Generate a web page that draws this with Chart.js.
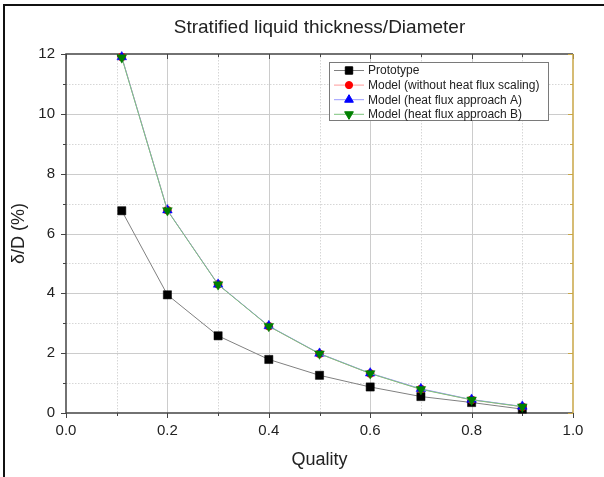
<!DOCTYPE html>
<html>
<head>
<meta charset="utf-8">
<script src="https://cdn.jsdelivr.net/npm/chart.js@4/dist/chart.umd.min.js"></script>
<style>
  html, body { margin: 0; padding: 0; background: #fff; }
  #wrap { width: 604px; height: 477px; position: relative; }
</style>
</head>
<body>
<div id="wrap"><canvas id="chart" width="604" height="477"></canvas></div>
<script>
// Valores (qualidade vs δ/D em %)
const quality = [0.11, 0.2, 0.3, 0.4, 0.5, 0.6, 0.7, 0.8, 0.9]
const prototype = [6.76, 3.95, 2.58, 1.79, 1.26, 0.87, 0.55, 0.35, 0.13]
const modelNoScaling = [11.9, 6.78, 4.30, 2.90, 1.98, 1.32, 0.80, 0.44, 0.21]
const modelApproachA = [11.9, 6.78, 4.30, 2.91, 1.99, 1.33, 0.81, 0.45, 0.22]
const modelApproachB = [11.88, 6.77, 4.29, 2.90, 1.98, 1.32, 0.79, 0.44, 0.21]

const xTicks = [0, 0.2, 0.4, 0.6, 0.8, 1.0]
const yTicks = [0, 2, 4, 6, 8, 10, 12]

const seriesNames = [
  'Prototype',
  'Model (without heat flux scaling)',
  'Model (heat flux approach A)',
  'Model (heat flux approach B)'
]

const FONT = "'Liberation Sans', Arial, sans-serif"

const toPoints = (ys) => quality.map((x, i) => ({ x: x, y: ys[i] }))

const datasets = [
  {
    label: seriesNames[0],
    data: toPoints(prototype),
    borderColor: '#808080',
    backgroundColor: '#000000',
    pointBackgroundColor: '#000000',
    pointBorderColor: '#000000',
    pointStyle: 'rect',
    pointRadius: 5.8,
    order: 3
  },
  {
    label: seriesNames[1],
    data: toPoints(modelNoScaling),
    borderColor: '#ff9a9a',
    backgroundColor: '#ff0000',
    pointBackgroundColor: '#ff0000',
    pointBorderColor: '#ff0000',
    pointStyle: 'circle',
    pointRadius: 4,
    order: 2
  },
  {
    label: seriesNames[2],
    data: toPoints(modelApproachA),
    borderColor: '#9a9aff',
    backgroundColor: '#0000ff',
    pointBackgroundColor: '#0000ff',
    pointBorderColor: '#0000ff',
    pointStyle: 'triangle',
    pointRadius: 5.6,
    order: 1
  },
  {
    label: seriesNames[3],
    data: toPoints(modelApproachB),
    borderColor: '#7cc47c',
    backgroundColor: '#008000',
    pointBackgroundColor: '#008000',
    pointBorderColor: '#008000',
    pointStyle: 'triangle',
    pointRotation: 180,
    pointRadius: 5.6,
    order: 0
  }
]
datasets.forEach(d => {
  d.borderWidth = 1
  d.pointBorderWidth = 0.5
  d.tension = 0
  d.clip = false
})

// Grade: linhas maiores sólidas, menores pontilhadas
const gridPlugin = {
  id: 'gridFrame',
  beforeDatasetsDraw(chart) {
    const { ctx, chartArea: a, scales: { x, y } } = chart
    ctx.save()
    ctx.lineWidth = 1
    // menores
    ctx.strokeStyle = '#d6d6d6'
    ctx.setLineDash([1.5, 1.5])
    for (let v = 0.1; v < 1; v += 0.2) {
      const px = Math.round(x.getPixelForValue(v)) + 0.5
      ctx.beginPath(); ctx.moveTo(px, a.top); ctx.lineTo(px, a.bottom); ctx.stroke()
    }
    for (let v = 1; v < 12; v += 2) {
      const py = Math.round(y.getPixelForValue(v)) + 0.5
      ctx.beginPath(); ctx.moveTo(a.left, py); ctx.lineTo(a.right, py); ctx.stroke()
    }
    // maiores
    ctx.setLineDash([])
    ctx.strokeStyle = '#cccccc'
    xTicks.slice(1, -1).forEach(v => {
      const px = Math.round(x.getPixelForValue(v)) + 0.5
      ctx.beginPath(); ctx.moveTo(px, a.top); ctx.lineTo(px, a.bottom); ctx.stroke()
    })
    yTicks.slice(1, -1).forEach(v => {
      const py = Math.round(y.getPixelForValue(v)) + 0.5
      ctx.beginPath(); ctx.moveTo(a.left, py); ctx.lineTo(a.right, py); ctx.stroke()
    })

    // eixos e marcas
    const axis = '#444444'
    const gold = '#c8a646'
    ctx.lineWidth = 1.5
    ctx.strokeStyle = axis
    ctx.beginPath()
    ctx.moveTo(a.right, a.top); ctx.lineTo(a.left, a.top); ctx.lineTo(a.left, a.bottom); ctx.lineTo(a.right, a.bottom)
    ctx.stroke()
    ctx.lineWidth = 1
    for (let i = 0; i <= 10; i++) {
      const v = i / 10
      const px = Math.round(x.getPixelForValue(v)) + 0.5
      const len = i % 2 === 0 ? 5 : 3
      ctx.beginPath(); ctx.moveTo(px, a.bottom); ctx.lineTo(px, a.bottom + len); ctx.stroke()
      ctx.beginPath(); ctx.moveTo(px, a.top); ctx.lineTo(px, a.top + len); ctx.stroke()
    }
    for (let v = 0; v <= 12; v++) {
      const py = Math.round(y.getPixelForValue(v)) + 0.5
      const len = v % 2 === 0 ? 5 : 3
      ctx.beginPath(); ctx.moveTo(a.left, py); ctx.lineTo(a.left - len, py); ctx.stroke()
    }
    ctx.strokeStyle = gold
    ctx.lineWidth = 1.5
    ctx.beginPath(); ctx.moveTo(a.right, a.top); ctx.lineTo(a.right, a.bottom); ctx.stroke()
    ctx.lineWidth = 1
    for (let v = 0; v <= 12; v++) {
      const py = Math.round(y.getPixelForValue(v)) + 0.5
      const len = v % 2 === 0 ? 5 : 3
      ctx.beginPath(); ctx.moveTo(a.right, py); ctx.lineTo(a.right - len, py); ctx.stroke()
    }
    ctx.restore()
  },
  afterDraw(chart) {
    const { ctx } = chart
    ctx.save()
    // moldura externa (topo e esquerda)
    ctx.fillStyle = '#111111'
    ctx.fillRect(3, 4, 601, 2)
    ctx.fillRect(3, 4, 2, 473)

    // legenda dentro da área do gráfico
    const box = { x: 329.5, y: 62.5, w: 219, h: 58 }
    ctx.fillStyle = '#ffffff'
    ctx.fillRect(box.x, box.y, box.w, box.h)
    ctx.strokeStyle = '#7a7a7a'
    ctx.lineWidth = 1
    ctx.strokeRect(box.x, box.y, box.w, box.h)
    ctx.font = '12px ' + FONT
    ctx.textBaseline = 'middle'
    ctx.textAlign = 'left'
    chart.data.datasets.forEach((ds, i) => {
      const cy = 70.5 + i * 14.6
      ctx.strokeStyle = ds.borderColor
      ctx.lineWidth = 1
      ctx.beginPath(); ctx.moveTo(334, cy); ctx.lineTo(364, cy); ctx.stroke()
      ctx.fillStyle = ds.pointBackgroundColor
      ctx.strokeStyle = ds.pointBorderColor
      Chart.helpers.drawPoint(ctx, {
        pointStyle: ds.pointStyle,
        radius: ds.pointRadius * 0.9,
        rotation: ds.pointRotation || 0,
        borderWidth: 0.5
      }, 349, cy)
      ctx.fillStyle = '#222222'
      ctx.fillText(ds.label, 368, cy + 0.5)
    })
    ctx.restore()
  }
}

new Chart(document.getElementById('chart'), {
  type: 'line',
  data: { datasets: datasets },
  options: {
    responsive: false,
    animation: false,
    layout: { padding: { left: 0, right: 31, top: 0, bottom: 0 } },
    plugins: {
      legend: { display: false },
      tooltip: { enabled: false },
      title: {
        display: true,
        fullSize: false,
        text: 'Stratified liquid thickness/Diameter',
        color: '#222222',
        font: { family: FONT, size: 19, weight: 'normal' },
        padding: { top: 16.6, bottom: 14.6 }
      }
    },
    scales: {
      x: {
        type: 'linear',
        min: 0,
        max: 1,
        afterFit: (scale) => { scale.height = 64 },
        afterBuildTicks: (scale) => { scale.ticks = xTicks.map(v => ({ value: v })) },
        grid: { display: false, drawTicks: false },
        border: { display: false },
        ticks: {
          color: '#222222',
          padding: 9,
          maxRotation: 0,
          font: { family: FONT, size: 15 },
          callback: (v) => Number(v).toFixed(1)
        },
        title: {
          display: true,
          text: 'Quality',
          color: '#222222',
          font: { family: FONT, size: 18 },
          padding: { top: 0, bottom: 6.4 }
        }
      },
      y: {
        type: 'linear',
        min: 0,
        max: 12,
        afterFit: (scale) => { scale.width = 66 },
        afterBuildTicks: (scale) => { scale.ticks = yTicks.map(v => ({ value: v })) },
        grid: { display: false, drawTicks: false },
        border: { display: false },
        ticks: {
          color: '#222222',
          padding: 11,
          font: { family: FONT, size: 15 },
          callback: (v) => String(v)
        },
        title: {
          display: true,
          text: 'δ/D (%)',
          color: '#222222',
          font: { family: FONT, size: 18 },
          padding: { top: 8.4, bottom: 0 }
        }
      }
    }
  },
  plugins: [gridPlugin]
})
</script>
</body>
</html>
